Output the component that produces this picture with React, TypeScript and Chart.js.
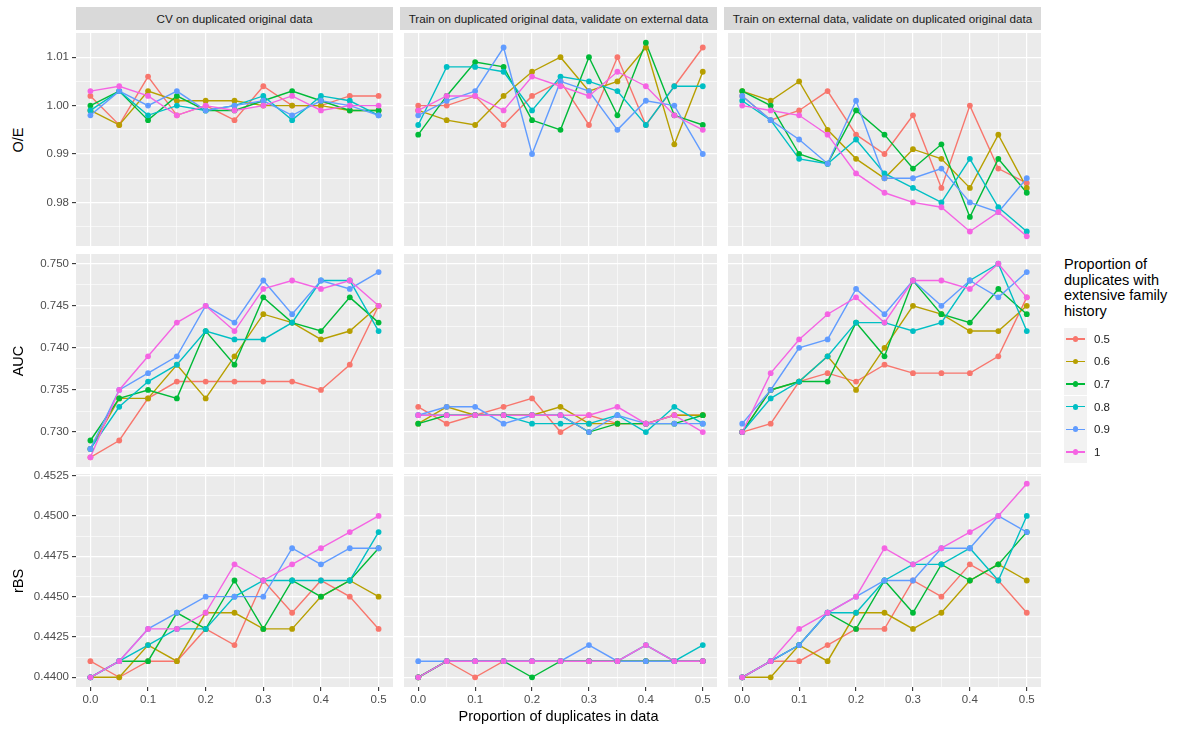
import React, { useEffect, useRef } from "react";
import { Chart, registerables } from "chart.js";
Chart.register(...registerables);

const FONT = "'Liberation Sans', Arial, Helvetica, sans-serif";

// ---------- data ----------
const X = [0, 0.05, 0.1, 0.15, 0.2, 0.25, 0.3, 0.35, 0.4, 0.45, 0.5];
const SERIES = ["0.5", "0.6", "0.7", "0.8", "0.9", "1"];
const COLORS = ["#F8766D", "#B79F00", "#00BA38", "#00BFC4", "#619CFF", "#F564E3"];

const STRIPS = [
  "CV on duplicated original data",
  "Train on duplicated original data, validate on external data",
  "Train on external data, validate on duplicated original data",
];
const ROW_TITLES = ["O/E", "AUC", "rBS"];
const X_TITLE = "Proportion of duplicates in data";
const LEGEND_TITLE = ["Proportion of", "duplicates with", "extensive family", "history"];

// O/E
const OE_CV = [
  [1.002, 0.996, 1.006, 0.998, 1.0, 0.997, 1.004, 1.0, 1.0, 1.002, 1.002],
  [0.999, 0.996, 1.003, 1.001, 1.001, 1.001, 1.0, 1.0, 1.0, 0.999, 0.999],
  [1.0, 1.003, 0.997, 1.002, 0.999, 0.999, 1.001, 1.003, 1.001, 0.999, 0.999],
  [0.999, 1.003, 0.998, 1.0, 0.999, 1.0, 1.002, 0.997, 1.002, 1.001, 0.998],
  [0.998, 1.003, 1.0, 1.003, 0.999, 1.0, 1.001, 0.998, 1.001, 1.0, 0.998],
  [1.003, 1.004, 1.002, 0.998, 1.0, 0.999, 1.0, 1.002, 0.999, 1.0, 1.0],
];
const OE_TE = [
  [1.0, 1.0, 1.002, 0.996, 1.002, 1.005, 0.996, 1.01, 0.996, 1.004, 1.012],
  [0.999, 0.997, 0.996, 1.002, 1.007, 1.01, 1.003, 1.005, 1.012, 0.992, 1.007],
  [0.994, 1.002, 1.009, 1.008, 0.997, 0.995, 1.01, 0.998, 1.013, 0.998, 0.996],
  [0.996, 1.008, 1.008, 1.007, 0.999, 1.006, 1.005, 1.003, 0.996, 1.004, 1.004],
  [0.998, 1.001, 1.003, 1.012, 0.99, 1.005, 1.003, 0.995, 1.001, 1.0, 0.99],
  [0.999, 1.002, 1.002, 0.999, 1.006, 1.004, 1.002, 1.007, 1.004, 0.998, 0.995],
];
const OE_ET = [
  [1.002, 0.997, 0.999, 1.003, 0.994, 0.99, 0.998, 0.983, 1.0, 0.987, 0.984],
  [1.003, 1.001, 1.005, 0.995, 0.989, 0.985, 0.991, 0.989, 0.983, 0.994, 0.983],
  [1.003, 1.0, 0.99, 0.988, 0.999, 0.994, 0.987, 0.992, 0.977, 0.989, 0.982],
  [1.001, 0.997, 0.989, 0.988, 0.993, 0.986, 0.983, 0.98, 0.989, 0.979, 0.974],
  [1.002, 0.997, 0.993, 0.988, 1.001, 0.985, 0.985, 0.987, 0.98, 0.978, 0.985],
  [1.0, 0.999, 0.998, 0.994, 0.986, 0.982, 0.98, 0.979, 0.974, 0.978, 0.973],
];

// AUC
const AUC_CV = [
  [0.727, 0.729, 0.734, 0.736, 0.736, 0.736, 0.736, 0.736, 0.735, 0.738, 0.745],
  [0.728, 0.734, 0.734, 0.738, 0.734, 0.739, 0.744, 0.743, 0.741, 0.742, 0.745],
  [0.729, 0.734, 0.735, 0.734, 0.742, 0.738, 0.746, 0.743, 0.742, 0.746, 0.743],
  [0.728, 0.733, 0.736, 0.738, 0.742, 0.741, 0.741, 0.743, 0.748, 0.748, 0.742],
  [0.728, 0.735, 0.737, 0.739, 0.745, 0.743, 0.748, 0.744, 0.748, 0.747, 0.749],
  [0.727, 0.735, 0.739, 0.743, 0.745, 0.742, 0.747, 0.748, 0.747, 0.748, 0.745],
];
const AUC_TE = [
  [0.733, 0.731, 0.732, 0.733, 0.734, 0.73, 0.732, 0.731, 0.731, 0.732, 0.732],
  [0.731, 0.733, 0.732, 0.732, 0.732, 0.733, 0.731, 0.731, 0.731, 0.732, 0.732],
  [0.731, 0.732, 0.732, 0.732, 0.732, 0.732, 0.73, 0.731, 0.731, 0.731, 0.732],
  [0.732, 0.732, 0.732, 0.732, 0.731, 0.731, 0.731, 0.732, 0.73, 0.733, 0.731],
  [0.732, 0.733, 0.733, 0.731, 0.732, 0.732, 0.73, 0.732, 0.731, 0.731, 0.731],
  [0.732, 0.732, 0.732, 0.732, 0.732, 0.732, 0.732, 0.733, 0.731, 0.732, 0.73],
];
const AUC_ET = [
  [0.73, 0.731, 0.736, 0.737, 0.736, 0.738, 0.737, 0.737, 0.737, 0.739, 0.746],
  [0.73, 0.735, 0.736, 0.739, 0.735, 0.74, 0.745, 0.744, 0.742, 0.742, 0.745],
  [0.73, 0.735, 0.736, 0.736, 0.743, 0.739, 0.748, 0.744, 0.743, 0.747, 0.744],
  [0.73, 0.734, 0.736, 0.739, 0.743, 0.743, 0.742, 0.743, 0.748, 0.75, 0.742],
  [0.731, 0.735, 0.74, 0.741, 0.747, 0.744, 0.748, 0.745, 0.748, 0.746, 0.749],
  [0.73, 0.737, 0.741, 0.744, 0.746, 0.743, 0.748, 0.748, 0.747, 0.75, 0.746],
];

// rBS
const RBS_CV = [
  [0.441, 0.44, 0.441, 0.441, 0.443, 0.442, 0.446, 0.444, 0.446, 0.445, 0.443],
  [0.44, 0.44, 0.442, 0.441, 0.444, 0.444, 0.443, 0.443, 0.445, 0.446, 0.445],
  [0.44, 0.441, 0.441, 0.444, 0.443, 0.446, 0.443, 0.446, 0.445, 0.446, 0.448],
  [0.44, 0.441, 0.442, 0.443, 0.443, 0.445, 0.446, 0.446, 0.446, 0.446, 0.449],
  [0.44, 0.441, 0.443, 0.444, 0.445, 0.445, 0.445, 0.448, 0.447, 0.448, 0.448],
  [0.44, 0.441, 0.443, 0.443, 0.444, 0.447, 0.446, 0.447, 0.448, 0.449, 0.45],
];
const RBS_TE = [
  [0.44, 0.441, 0.44, 0.441, 0.441, 0.441, 0.441, 0.441, 0.441, 0.441, 0.441],
  [0.44, 0.441, 0.441, 0.441, 0.441, 0.441, 0.441, 0.441, 0.441, 0.441, 0.441],
  [0.44, 0.441, 0.441, 0.441, 0.44, 0.441, 0.441, 0.441, 0.441, 0.441, 0.441],
  [0.44, 0.441, 0.441, 0.441, 0.441, 0.441, 0.441, 0.441, 0.442, 0.441, 0.442],
  [0.441, 0.441, 0.441, 0.441, 0.441, 0.441, 0.442, 0.441, 0.441, 0.441, 0.441],
  [0.44, 0.441, 0.441, 0.441, 0.441, 0.441, 0.441, 0.441, 0.442, 0.441, 0.441],
];
const RBS_ET = [
  [0.44, 0.441, 0.441, 0.442, 0.443, 0.443, 0.446, 0.445, 0.447, 0.446, 0.444],
  [0.44, 0.44, 0.442, 0.441, 0.444, 0.444, 0.443, 0.444, 0.446, 0.447, 0.446],
  [0.44, 0.441, 0.442, 0.444, 0.443, 0.446, 0.444, 0.447, 0.446, 0.447, 0.449],
  [0.44, 0.441, 0.442, 0.444, 0.444, 0.446, 0.447, 0.447, 0.448, 0.446, 0.45],
  [0.44, 0.441, 0.442, 0.444, 0.445, 0.446, 0.446, 0.448, 0.448, 0.45, 0.449],
  [0.44, 0.441, 0.443, 0.444, 0.445, 0.448, 0.447, 0.448, 0.449, 0.45, 0.452],
];

const PANELS = [
  [OE_CV, OE_TE, OE_ET],
  [AUC_CV, AUC_TE, AUC_ET],
  [RBS_CV, RBS_TE, RBS_ET],
];

// ticks (major + minor grid positions)
const X_TICK_VALUES = [0, 0.05, 0.1, 0.15, 0.2, 0.25, 0.3, 0.35, 0.4, 0.45, 0.5];
const X_TICK_LABELS = ["0.0", "", "0.1", "", "0.2", "", "0.3", "", "0.4", "", "0.5"];
const X_RANGE = [-0.025, 0.525];

const OE_TICK_VALUES = [0.975, 0.98, 0.985, 0.99, 0.995, 1.0, 1.005, 1.01];
const OE_TICK_LABELS = ["", "0.98", "", "0.99", "", "1.00", "", "1.01"];
const AUC_TICK_VALUES = [0.7275, 0.73, 0.7325, 0.735, 0.7375, 0.74, 0.7425, 0.745, 0.7475, 0.75];
const AUC_TICK_LABELS = ["", "0.730", "", "0.735", "", "0.740", "", "0.745", "", "0.750"];
const RBS_TICK_VALUES = [0.44, 0.44125, 0.4425, 0.44375, 0.445, 0.44625, 0.4475, 0.44875, 0.45, 0.45125, 0.4525];
const RBS_TICK_LABELS = ["0.4400", "", "0.4425", "", "0.4450", "", "0.4475", "", "0.4500", "", "0.4525"];

const Y_TICK_VALUES = [OE_TICK_VALUES, AUC_TICK_VALUES, RBS_TICK_VALUES];
const Y_TICK_LABELS = [OE_TICK_LABELS, AUC_TICK_LABELS, RBS_TICK_LABELS];
const Y_RANGES = [
  [0.971, 1.015],
  [0.72585, 0.75115],
  [0.4394, 0.4526],
];

// ---------- layout ----------
const COL_X = [76, 400, 724];
const ROW_Y = [33, 254, 474];
const PW = 317;
const PH = 213;
const Y_AXIS_W = 46;
const X_AXIS_H = 24;
const PAD = 8;

const panelBg = {
  id: "panelBg",
  beforeDraw(chart: any) {
    const { ctx, chartArea: a } = chart;
    ctx.save();
    ctx.fillStyle = "#EBEBEB";
    ctx.fillRect(a.left, a.top, a.right - a.left, a.bottom - a.top);
    ctx.restore();
  },
};

function Panel({ r, c }: { r: number; c: number }) {
  const ref = useRef<HTMLCanvasElement | null>(null);
  const extraL = c === 0 ? Y_AXIS_W : 0;
  const extraB = r === 2 ? X_AXIS_H : PAD;
  const left = COL_X[c] - extraL;
  const top = ROW_Y[r] - PAD;
  const w = PW + extraL + PAD;
  const h = PH + PAD + extraB;

  useEffect(() => {
    const data = PANELS[r][c];
    const yVals = Y_TICK_VALUES[r];
    const yLabs = Y_TICK_LABELS[r];
    const lineSets = SERIES.map((s, i) => ({
      label: s,
      data: X.map((x, j) => ({ x, y: data[i][j] })),
      borderColor: COLORS[i],
      backgroundColor: COLORS[i],
      borderWidth: 1.4,
      pointRadius: 0,
      tension: 0,
      fill: false,
      order: 20 - i,
    }));
    const pointSets = SERIES.map((s, i) => ({
      label: s + " points",
      data: X.map((x, j) => ({ x, y: data[i][j] })),
      borderColor: COLORS[i],
      backgroundColor: COLORS[i],
      showLine: false,
      pointRadius: 2.9,
      pointBorderWidth: 0,
      pointBackgroundColor: COLORS[i],
      order: 10 - i,
    }));
    const showY = c === 0;
    const showX = r === 2;
    const chart = new Chart(ref.current as HTMLCanvasElement, {
      type: "line",
      data: { datasets: [...lineSets, ...pointSets] as any },
      plugins: [panelBg],
      options: {
        animation: false,
        responsive: false,
        maintainAspectRatio: false,
        events: [],
        layout: { padding: { left: 0, top: PAD, right: PAD, bottom: showX ? 0 : PAD } },
        plugins: { legend: { display: false }, tooltip: { enabled: false }, title: { display: false } },
        scales: {
          x: {
            type: "linear",
            min: X_RANGE[0],
            max: X_RANGE[1],
            bounds: "data",
            border: { display: false },
            afterBuildTicks: (s: any) => {
              s.ticks = X_TICK_VALUES.map((v) => ({ value: v }));
            },
            afterFit: (s: any) => {
              s.height = showX ? X_AXIS_H : 0;
              s.paddingLeft = 0;
              s.paddingRight = 0;
            },
            grid: {
              color: "#FFFFFF",
              lineWidth: (ctx: any) => (X_TICK_LABELS[ctx.index] ? 1.2 : 0.6),
              drawTicks: showX,
              tickLength: 4,
              tickColor: (ctx: any) => (X_TICK_LABELS[ctx.index] ? "#333333" : "rgba(0,0,0,0)"),
              tickWidth: 1.1,
            },
            ticks: {
              display: showX,
              autoSkip: false,
              maxRotation: 0,
              padding: 2,
              color: "#4D4D4D",
              font: { family: FONT, size: 11.5 },
              callback: (_v: any, i: number) => X_TICK_LABELS[i],
            },
          },
          y: {
            type: "linear",
            min: Y_RANGES[r][0],
            max: Y_RANGES[r][1],
            bounds: "data",
            border: { display: false },
            afterBuildTicks: (s: any) => {
              s.ticks = yVals.map((v) => ({ value: v }));
            },
            afterFit: (s: any) => {
              s.width = showY ? Y_AXIS_W : 0;
              s.paddingTop = 0;
              s.paddingBottom = 0;
            },
            grid: {
              color: "#FFFFFF",
              lineWidth: (ctx: any) => (yLabs[ctx.index] ? 1.2 : 0.6),
              drawTicks: showY,
              tickLength: 4,
              tickColor: (ctx: any) => (yLabs[ctx.index] ? "#333333" : "rgba(0,0,0,0)"),
              tickWidth: 1.1,
            },
            ticks: {
              display: showY,
              autoSkip: false,
              padding: 3,
              color: "#4D4D4D",
              font: { family: FONT, size: 11.5 },
              callback: (_v: any, i: number) => yLabs[i],
            },
          },
        },
      } as any,
    });
    return () => chart.destroy();
  }, [r, c]);

  return (
    <canvas
      ref={ref}
      width={w}
      height={h}
      style={{ position: "absolute", left, top, width: w, height: h }}
    />
  );
}

export default function App() {
  const cells: JSX.Element[] = [];
  for (let r = 0; r < 3; r++) for (let c = 0; c < 3; c++) cells.push(<Panel key={r + "-" + c} r={r} c={c} />);
  return (
    <div
      style={{
        position: "absolute",
        left: 0,
        top: 0,
        width: 1187,
        height: 730,
        background: "#FFFFFF",
        fontFamily: FONT,
        overflow: "hidden",
      }}
    >
      {STRIPS.map((s, c) => (
        <div
          key={s}
          style={{
            position: "absolute",
            left: COL_X[c],
            top: 7,
            width: PW,
            height: 23,
            background: "#D9D9D9",
            color: "#1A1A1A",
            fontSize: 11.7,
            lineHeight: "23px",
            textAlign: "center",
            whiteSpace: "nowrap",
          }}
        >
          {s}
        </div>
      ))}
      {cells}
      {ROW_TITLES.map((t, r) => (
        <div
          key={t}
          style={{
            position: "absolute",
            left: 18,
            top: ROW_Y[r] + PH / 2,
            transform: "translate(-50%, -50%) rotate(-90deg)",
            fontSize: 14.5,
            color: "#000",
            whiteSpace: "nowrap",
          }}
        >
          {t}
        </div>
      ))}
      <div
        style={{
          position: "absolute",
          left: (COL_X[0] + COL_X[2] + PW) / 2,
          top: 716,
          transform: "translate(-50%, -50%)",
          fontSize: 14.5,
          color: "#000",
          whiteSpace: "nowrap",
        }}
      >
        {X_TITLE}
      </div>
      <div
        style={{
          position: "absolute",
          left: 1064,
          top: 257,
          fontSize: 14.5,
          lineHeight: "15.7px",
          color: "#000",
          whiteSpace: "nowrap",
        }}
      >
        {LEGEND_TITLE.map((l) => (
          <div key={l}>{l}</div>
        ))}
      </div>
      {SERIES.map((s, i) => (
        <React.Fragment key={s}>
          <div
            style={{
              position: "absolute",
              left: 1064,
              top: 327.7 + i * 22.6,
              width: 23,
              height: 22.6,
              background: "#F2F2F2",
            }}
          >
            <div
              style={{
                position: "absolute",
                left: 2,
                right: 2,
                top: 10.6,
                height: 1.4,
                background: COLORS[i],
              }}
            />
            <div
              style={{
                position: "absolute",
                left: 11.5 - 2.9,
                top: 11.3 - 2.9,
                width: 5.8,
                height: 5.8,
                borderRadius: "50%",
                background: COLORS[i],
              }}
            />
          </div>
          <div
            style={{
              position: "absolute",
              left: 1094,
              top: 327.7 + i * 22.6,
              height: 22.6,
              lineHeight: "22.6px",
              fontSize: 11.5,
              color: "#1A1A1A",
            }}
          >
            {s}
          </div>
        </React.Fragment>
      ))}
    </div>
  );
}
